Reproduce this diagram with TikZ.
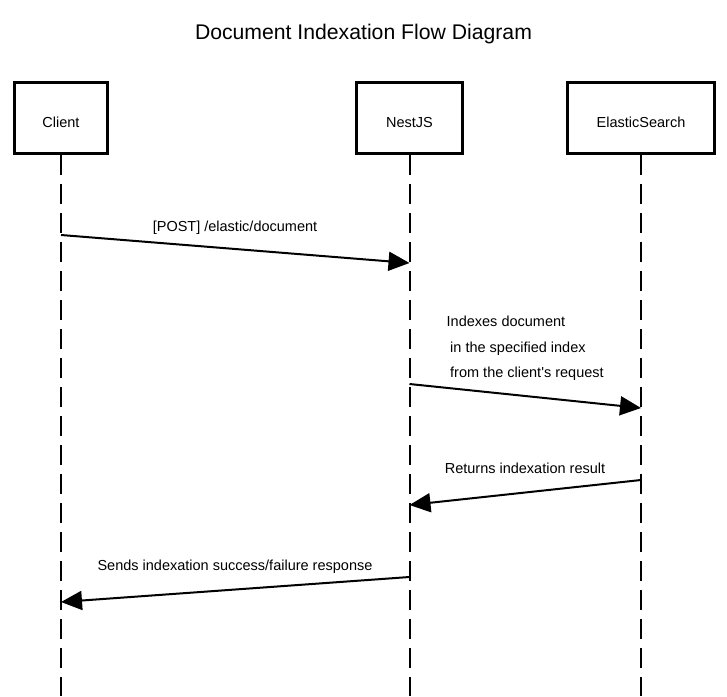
\documentclass[tikz,border=0pt]{standalone}
\usepackage{fontspec}
\setmainfont{Liberation Sans}[Ligatures=TeXOff]
\usetikzlibrary{arrows.meta}
\begin{document}
\begin{tikzpicture}[x=1pt,y=-1pt,
  actor/.style={draw=black, line width=3.4pt, fill=white, inner sep=0pt,
    font=\fontsize{14.5}{17}\selectfont, text height=19.6pt, text depth=0pt,
    minimum height=71pt},
  lifeline/.style={line width=2pt, dash pattern=on 20pt off 9pt},
  msg/.style={line width=2pt, -{Triangle[length=21pt,width=19pt]}},
  lbl/.style={font=\fontsize{14.5}{17}\selectfont, inner sep=0pt, anchor=base}]
\useasboundingbox (0,0) rectangle (727,696);
\fill[white] (0,0) rectangle (727,696);
\node[font=\fontsize{21.2}{25}\selectfont, inner sep=0pt, anchor=base] (title) at (363.5,39) {Document Indexation Flow Diagram};

\node[actor, minimum width=93pt] (client) at (61,118) {Client};
\node[actor, minimum width=106pt] (nest) at (409.5,118) {NestJS};
\node[actor, minimum width=147pt] (es) at (641,118) {ElasticSearch};

% lifeline ends
\coordinate (clientEnd) at (61,696);
\coordinate (nestEnd) at (409.5,696);
\coordinate (esEnd) at (641,696);

\draw[lifeline] (client.south) -- (clientEnd);
\draw[lifeline] (nest.south) -- (nestEnd);
\draw[lifeline] (es.south) -- (esEnd);

% message points
\coordinate (m1a) at (61,235);
\coordinate (m1b) at (409.5,263);
\coordinate (m2a) at (409.5,384);
\coordinate (m2b) at (641,408);
\coordinate (m3a) at (641,480);
\coordinate (m3b) at (409.5,505);
\coordinate (m4a) at (409.5,577);
\coordinate (m4b) at (61,602);

\draw[msg] (m1a) -- (m1b);
\draw[msg] (m2a) -- (m2b);
\draw[msg] (m3a) -- (m3b);
\draw[msg] (m4a) -- (m4b);

\node[lbl] (l1) at (235,231) {[POST] /elastic/document};
\node[lbl, anchor=base west] (l2a) at (446.5,326) {Indexes document};
\node[lbl, anchor=base west] (l2b) at (450,352) {in the specified index};
\node[lbl, anchor=base west] (l2c) at (450,377.5) {from the client's request};
\node[lbl] (l3) at (525,473) {Returns indexation result};
\node[lbl] (l4) at (235,570) {Sends indexation success/failure response};
\end{tikzpicture}
\end{document}
